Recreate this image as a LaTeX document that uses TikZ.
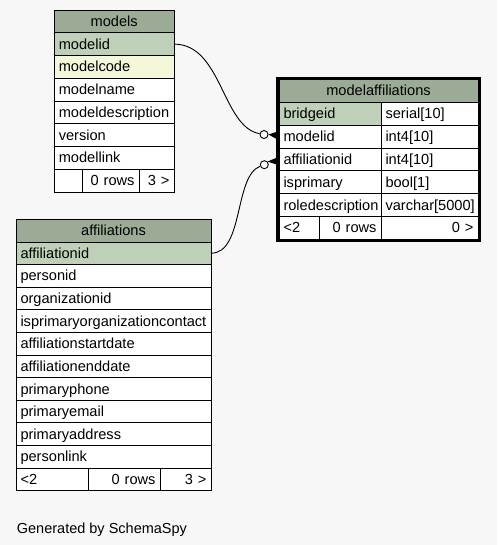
\documentclass[tikz,border=0pt]{standalone}
\usepackage{fontspec}
\setmainfont{Liberation Sans}
\usetikzlibrary{calc}
\definecolor{bgc}{HTML}{F7F7F7}
\definecolor{hdr}{HTML}{9BAB96}
\definecolor{pkc}{HTML}{BED1B8}
\definecolor{idxc}{HTML}{F4F7DA}
\tikzset{
  tcell/.style={draw=black, line width=0.8pt, anchor=north west, outer sep=0pt,
    inner xsep=4.5pt, inner ysep=0pt, text height=11.8pt, text depth=1.7pt,
    font=\fontsize{14.6}{17}\selectfont},
  circ/.style={circle, draw=black, fill=white, line width=0.9pt, minimum size=8pt, inner sep=0pt},
  rel/.style={draw=black, line width=0.9pt},
  crow/.style={fill=black},
}
% name, x, y, textwidth, height, fill, text, align
\newcommand\tc[8]{\node[tcell, fill=#6, minimum height=#5pt, text width=#4pt, align=#8] (#1) at (#2,#3) {#7};}
\begin{document}
\begin{tikzpicture}[x=1pt,y=-1pt]
\useasboundingbox (0,0) rectangle (497,545);
\fill[bgc] (0,0) rectangle (497,545);

% ---- models ----
\tc{mo-head}{54.3}{10}{110.7}{22.75}{hdr}{models}{center}
\tc{mo-modelid}{54.3}{32.75}{110.7}{22.75}{pkc}{modelid}{left}
\tc{mo-modelcode}{54.3}{55.5}{110.7}{22.75}{idxc}{modelcode}{left}
\tc{mo-modelname}{54.3}{78.25}{110.7}{22.75}{white}{modelname}{left}
\tc{mo-modeldescription}{54.3}{101}{110.7}{22.75}{white}{modeldescription}{left}
\tc{mo-version}{54.3}{123.75}{110.7}{22.75}{white}{version}{left}
\tc{mo-modellink}{54.3}{146.5}{110.7}{22.75}{white}{modellink}{left}
\tc{mo-f1}{54.3}{169.25}{18.7}{22.75}{white}{}{left}
\tc{mo-f2}{82}{169.25}{48}{22.75}{white}{0 rows}{right}
\tc{mo-f3}{139}{169.25}{26}{22.75}{white}{3 >}{right}

% ---- affiliations ----
\tc{af-head}{16}{219.3}{186}{22.62}{hdr}{affiliations}{center}
\tc{af-affiliationid}{16}{241.92}{186}{22.62}{pkc}{affiliationid}{left}
\tc{af-personid}{16}{264.54}{186}{22.62}{white}{personid}{left}
\tc{af-organizationid}{16}{287.16}{186}{22.62}{white}{organizationid}{left}
\tc{af-isprimary}{16}{309.78}{186}{22.62}{white}{isprimaryorganizationcontact}{left}
\tc{af-start}{16}{332.4}{186}{22.62}{white}{affiliationstartdate}{left}
\tc{af-end}{16}{355.02}{186}{22.62}{white}{affiliationenddate}{left}
\tc{af-phone}{16}{377.64}{186}{22.62}{white}{primaryphone}{left}
\tc{af-email}{16}{400.26}{186}{22.62}{white}{primaryemail}{left}
\tc{af-address}{16}{422.88}{186}{22.62}{white}{primaryaddress}{left}
\tc{af-personlink}{16}{445.5}{186}{22.62}{white}{personlink}{left}
\tc{af-f1}{16}{468.12}{63}{22.62}{white}{<2}{left}
\tc{af-f2}{88}{468.12}{63}{22.62}{white}{0 rows}{right}
\tc{af-f3}{160}{468.12}{42}{22.62}{white}{3 >}{right}

% ---- modelaffiliations ----
\tc{ma-head}{279}{79.5}{190}{22.83}{hdr}{modelaffiliations}{center}
\tc{ma-bridgeid}{279}{102.33}{93}{22.83}{pkc}{bridgeid}{left}
\tc{ma-bridgeid-t}{381}{102.33}{88}{22.83}{white}{serial[10]}{left}
\tc{ma-modelid}{279}{125.16}{93}{22.83}{white}{modelid}{left}
\tc{ma-modelid-t}{381}{125.16}{88}{22.83}{white}{int4[10]}{left}
\tc{ma-affiliationid}{279}{147.99}{93}{22.83}{white}{affiliationid}{left}
\tc{ma-affiliationid-t}{381}{147.99}{88}{22.83}{white}{int4[10]}{left}
\tc{ma-isprimary}{279}{170.82}{93}{22.83}{white}{isprimary}{left}
\tc{ma-isprimary-t}{381}{170.82}{88}{22.83}{white}{bool[1]}{left}
\tc{ma-roledescription}{279}{193.65}{93}{22.83}{white}{roledescription}{left}
\tc{ma-roledescription-t}{381}{193.65}{88}{22.83}{white}{varchar[5000]}{left}
\tc{ma-f1}{279}{216.48}{31}{22.83}{white}{<2}{left}
\tc{ma-f2}{319}{216.48}{53}{22.83}{white}{0 rows}{right}
\tc{ma-f3}{381}{216.48}{88}{22.83}{white}{0 >}{right}
\draw[line width=2.7pt] ($(ma-head.north west)+(-1.5,-1.5)$) rectangle ($(ma-f3.south east)+(1.3,1.4)$);

% ---- relationships ----
\node[circ] (c1) at (264,134.5) {};
\node[circ] (c2) at (264.3,164.7) {};
\draw[rel] (mo-modelid.east) .. controls (222,44.1) and (222,127) .. (c1);
\fill[crow] (c1.east) -- ($(ma-modelid.west)+(-1.5,-5)$) -- ($(ma-modelid.west)+(-1.5,3)$) -- cycle;
\draw[rel] (af-affiliationid.east) .. controls (244,253.2) and (234,176) .. (c2);
\fill[crow] (c2.north east) -- ($(ma-affiliationid.west)+(-1.5,-2)$) -- ($(ma-affiliationid.west)+(-1.5,5.5)$) -- cycle;

\node[anchor=base west, inner sep=0pt, font=\fontsize{14.5}{17}\selectfont] (gen) at (16.7,533) {Generated by SchemaSpy};
\end{tikzpicture}
\end{document}
